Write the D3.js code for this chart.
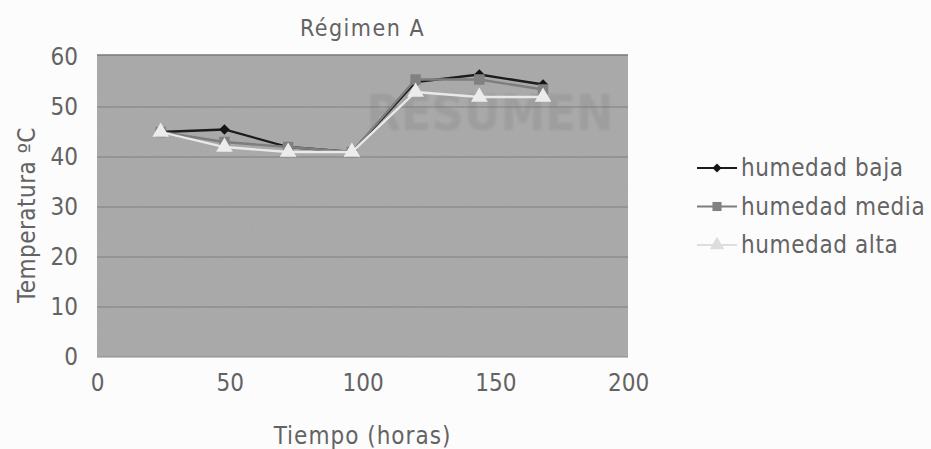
<!DOCTYPE html>
<html>
<head>
<meta charset="utf-8">
<script src="https://cdn.jsdelivr.net/npm/d3@7"></script>
<style>
  html, body { margin: 0; padding: 0; background: #fdfcfd; }
  svg { display: block; }
  text { font-family: "DejaVu Sans Condensed", "Liberation Sans Narrow", "Roboto", sans-serif; fill: #555; }
</style>
</head>
<body>
<svg id="chart" width="931" height="449"></svg>
<script>
// Sampling times (hours)
const horas = [24, 48, 72, 96, 120, 144, 168];
// Temperature per humidity level (ºC)
const humedadBaja  = [45, 45.5, 42, 41, 55, 56.5, 54.5];
const humedadMedia = [45, 43, 42, 41, 55.5, 55.5, 53.5];
const humedadAlta  = [45, 42, 41, 41, 53, 52, 52];
const nombres = ["humedad baja", "humedad media", "humedad alta"];
const xTicks = [0, 50, 100, 150, 200];
const yTicks = [0, 10, 20, 30, 40, 50, 60];

const svg = d3.select("#chart");
const plot = { left: 97, right: 628, top: 57, bottom: 357 };
const labelColor = "#636363";
const labelSize = "24px";

const x = d3.scaleLinear().domain([0, 200]).range([plot.left, plot.right]);
const y = d3.scaleLinear().domain([0, 60]).range([plot.bottom, plot.top]);

// grain for the plot background, soft edge for the watermark
const defs = svg.append("defs");
const f = defs.append("filter").attr("id", "grain").attr("x", 0).attr("y", 0).attr("width", 1).attr("height", 1);
f.append("feTurbulence").attr("type", "fractalNoise").attr("baseFrequency", 0.9).attr("numOctaves", 2).attr("seed", 3).attr("result", "n");
f.append("feColorMatrix").attr("in", "n").attr("type", "matrix")
  .attr("values", "0 0 0 0 0.5  0 0 0 0 0.5  0 0 0 0 0.5  0 0 0 0.18 0").attr("result", "g");
f.append("feComposite").attr("in", "g").attr("in2", "SourceGraphic").attr("operator", "in").attr("result", "gc");
f.append("feMerge").selectAll("feMergeNode").data(["SourceGraphic", "gc"]).join("feMergeNode").attr("in", d => d);
defs.append("filter").attr("id", "soft").append("feGaussianBlur").attr("stdDeviation", 1.2);

svg.append("rect")
  .attr("x", plot.left).attr("y", plot.top - 2)
  .attr("width", plot.right - plot.left).attr("height", plot.bottom - plot.top + 2)
  .attr("fill", "#a7a7a7")
  .attr("filter", "url(#grain)");

// watermark
svg.append("text")
  .attr("x", x(148)).attr("y", y(45.5))
  .attr("text-anchor", "middle")
  .attr("filter", "url(#soft)")
  .style("font-family", "'DejaVu Sans Condensed', 'DejaVu Sans', sans-serif")
  .style("font-weight", "bold")
  .style("font-size", "50px")
  .style("fill", "#9d9d9d")
  .style("opacity", 0.9)
  .text("RESUMEN");

// horizontal gridlines
svg.append("g").selectAll("line")
  .data(yTicks.filter(d => d > 0 && d < 60))
  .join("line")
  .attr("x1", plot.left).attr("x2", plot.right)
  .attr("y1", d => y(d)).attr("y2", d => y(d))
  .attr("stroke", "#6f6f6f").attr("stroke-width", 1).attr("opacity", 0.7);

// top and bottom edges
svg.append("line").attr("x1", plot.left).attr("x2", plot.right)
  .attr("y1", plot.top - 2).attr("y2", plot.top - 2).attr("stroke", "#7a7a7a").attr("stroke-width", 1.5);
svg.append("line").attr("x1", plot.left).attr("x2", plot.right)
  .attr("y1", plot.bottom).attr("y2", plot.bottom).attr("stroke", "#8a8a8a").attr("stroke-width", 1);

// axes (labels only)
const yAxis = d3.axisLeft(y).tickValues(yTicks).tickSize(0).tickPadding(19);
svg.append("g").attr("transform", `translate(${plot.left},0)`).call(yAxis)
  .call(g => g.select(".domain").remove())
  .call(g => g.attr("font-family", null).attr("font-size", null))
  .selectAll("text").style("font-size", labelSize).style("fill", labelColor);

const xAxis = d3.axisBottom(x).tickValues(xTicks).tickSize(0).tickPadding(17);
svg.append("g").attr("transform", `translate(0,${plot.bottom})`).call(xAxis)
  .call(g => g.select(".domain").remove())
  .call(g => g.attr("font-family", null).attr("font-size", null))
  .selectAll("text").style("font-size", labelSize).style("fill", labelColor);

// titles
svg.append("text").attr("x", x(100)).attr("y", 36).attr("text-anchor", "middle")
  .style("font-size", "23px").style("letter-spacing", "1.5px").style("fill", labelColor).text("Régimen A");
svg.append("text").attr("x", x(100)).attr("y", 444).attr("text-anchor", "middle")
  .style("font-size", labelSize).style("letter-spacing", "1px").style("fill", labelColor).text("Tiempo (horas)");
svg.append("text").attr("transform", `translate(35,${y(30) + 8}) rotate(-90)`).attr("text-anchor", "middle")
  .style("font-size", labelSize).style("letter-spacing", "0.5px").style("fill", labelColor).text("Temperatura ºC");

const series = [
  { name: nombres[0], values: humedadBaja,  color: "#1c1c1c", marker: d3.symbolDiamond2, mcolor: "#151515", size: 70 },
  { name: nombres[1], values: humedadMedia, color: "#7d7d7d", marker: d3.symbolSquare,  mcolor: "#818181", size: 110 },
  { name: nombres[2], values: humedadAlta,  color: "#e9e9e9", marker: d3.symbolTriangle, mcolor: "#ececec", size: 120 }
];

const line = d3.line().x((d, i) => x(horas[i])).y(d => y(d));

series.forEach(s => {
  svg.append("path").datum(s.values)
    .attr("d", line).attr("fill", "none")
    .attr("stroke", s.color).attr("stroke-width", 2.3);
  svg.append("g").selectAll("path")
    .data(s.values).join("path")
    .attr("transform", (d, i) => `translate(${x(horas[i])},${y(d)})`)
    .attr("d", d3.symbol().type(s.marker).size(s.size))
    .attr("fill", s.mcolor);
});

// legend
const legend = svg.append("g").attr("transform", "translate(697,168)");
series.forEach((s, i) => {
  const g = legend.append("g").attr("transform", `translate(0,${i * 38.5})`);
  g.append("line").attr("x1", 0).attr("x2", 40).attr("y1", 0).attr("y2", 0)
    .attr("stroke", i === 2 ? "#dedede" : s.color).attr("stroke-width", 2);
  g.append("path").attr("transform", "translate(20,0)")
    .attr("d", d3.symbol().type(s.marker).size(s.size * 0.75))
    .attr("fill", i === 2 ? "#dddddd" : s.mcolor);
  g.append("text").attr("x", 44).attr("y", 8)
    .style("font-size", labelSize).style("letter-spacing", "0.6px").style("fill", labelColor).text(s.name);
});
</script>
</body>
</html>
